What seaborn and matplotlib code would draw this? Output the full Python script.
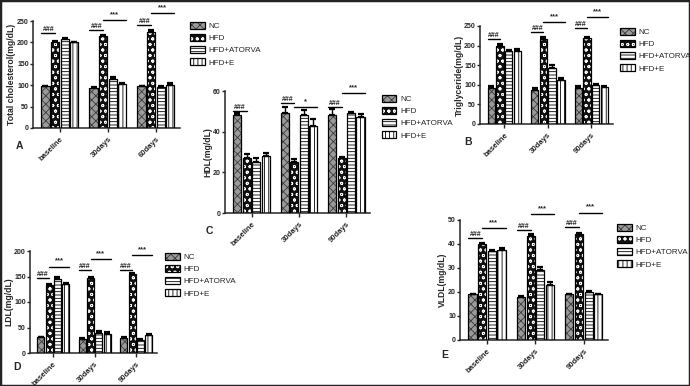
import pandas as pd
import seaborn as sns
import matplotlib.pyplot as plt
from matplotlib.patches import Patch, Rectangle
from matplotlib.legend_handler import HandlerTuple

# groups and time points
groups = ["NC", "HFD", "HFD+ATORVA", "HFD+E"]

# A: total cholesterol
tc_times = ["baseline", "30days", "60days"]
tc_vals = [[97, 200, 208, 200], [93, 215, 115, 103], [97, 225, 95, 101]]
tc_err = [[2, 3, 3, 2], [2, 3, 3, 2], [2, 3, 3, 3]]
tc_hash = [222, 229, 241]
tc_star = [None, 252, 269]

# B: triglyceride
tg_times = ["baseline", "30days", "90days"]
tg_vals = [[93, 199, 185, 187], [88, 217, 143, 113], [93, 220, 100, 95]]
tg_err = [[3, 4, 4, 5], [3, 4, 8, 5], [4, 3, 3, 3]]
tg_hash = [217, 235, 245]
tg_star = [None, 260, 273]

# C: HDL
hdl_times = ["baseline", "30days", "90days"]
hdl_vals = [[48, 27, 25, 28], [49, 25, 48, 43], [48, 27, 49, 47]]
hdl_err = [[1, 2, 2, 1.5], [3, 1.5, 2.5, 3], [3, 0.5, 0.5, 1.5]]
hdl_hash = [50, 54, 52]
hdl_star = [None, 52, 59]
hdl_star_txt = [None, "*", "***"]

# D: LDL
ldl_times = ["baseline", "30days", "90days"]
ldl_vals = [[31, 133, 146, 135], [27, 148, 40, 38], [30, 154, 25, 35]]
ldl_err = [[1, 3, 3, 3], [3, 2, 4, 3], [1, 2, 2, 3]]
ldl_hash = [147, 163, 163]
ldl_star = [169, 184, 192]

# E: VLDL
vldl_times = ["baseline", "30days", "90days"]
vldl_vals = [[19, 40, 37, 37.5], [18, 43.5, 29, 23], [19, 44, 20, 19]]
vldl_err = [[0.3, 0.5, 0.5, 1], [0.4, 0.6, 1.5, 1.2], [0.3, 0.4, 0.5, 0.3]]
vldl_hash = [42.4, 45.8, 47]
vldl_star = [46.6, 52.5, 53]

# bar looks: (face, hatch, hatch colour)
styles = [("#9a9a9a", "xxxx", "#3a3a3a"),
          ("#111111", "ooo", "white"),
          ("white", "-----", "black"),
          ("white", "||||", "black")]

sns.set_style("ticks")
plt.rcParams["font.family"] = ["Liberation Sans", "DejaVu Sans"]
plt.rcParams["font.weight"] = "bold"
plt.rcParams["hatch.linewidth"] = 0.6


def to_df(times, vals):
    rows = []
    for t, v in zip(times, vals):
        for g, x in zip(groups, v):
            rows.append({"time": t, "group": g, "value": x})
    return pd.DataFrame(rows)


def panel(fig, px, times, vals, errs, hashes, stars, ylim, yticks, ylabel,
          star_txt=None):
    W, H = 690, 386
    l, t, r, b = px
    ax = fig.add_axes([l / W, (H - b) / H, (r - l) / W, (b - t) / H])
    df = to_df(times, vals)
    sns.barplot(data=df, x="time", y="value", hue="group", errorbar=None,
                gap=0.15, legend=False, ax=ax)
    bars = list(ax.containers)
    for i, cont in enumerate(bars):
        face, hatch, hc = styles[i]
        xs, ys = [], []
        for bar in cont:
            bar.set_facecolor(face)
            bar.set_edgecolor(hc)
            bar.set_hatch(hatch)
            bar.set_linewidth(0)
            ax.add_patch(Rectangle((bar.get_x(), 0), bar.get_width(), bar.get_height(),
                                   fill=False, edgecolor="black", lw=0.9, zorder=3))
            xs.append(bar.get_x() + bar.get_width() / 2)
            ys.append(bar.get_height())
        e = [row[i] for row in errs]
        ax.errorbar(xs, ys, yerr=[[0] * len(e), e], fmt="none", ecolor="black",
                    elinewidth=1, capsize=2.2, capthick=1.6, zorder=4)
    for j in range(len(times)):
        nc = bars[0][j]
        hfd = bars[1][j]
        hfe = bars[3][j]
        x0 = nc.get_x()
        x1 = hfd.get_x() + hfd.get_width() / 2
        x2 = hfe.get_x() + hfe.get_width()
        if hashes[j] is not None:
            ax.plot([x0, x1], [hashes[j]] * 2, color="black", lw=1, clip_on=False)
            ax.text((x0 + x1) / 2, hashes[j], "###", ha="center", va="bottom",
                    fontsize=5, clip_on=False)
        if stars[j] is not None:
            s = star_txt[j] if star_txt else "***"
            ax.plot([x1, x2], [stars[j]] * 2, color="black", lw=1, clip_on=False)
            ax.annotate(s, ((x1 + x2) / 2, stars[j]), xytext=(0, 1.5),
                        textcoords="offset points", ha="center", va="bottom",
                        fontsize=5.5, annotation_clip=False)
    ax.set_xlim(-0.56, len(times) - 0.5)
    ax.set_ylim(*ylim)
    ax.set_yticks(yticks)
    ax.set_xlabel("")
    ax.set_ylabel(ylabel, fontsize=6.2, fontweight="bold", labelpad=0.5)
    ax.tick_params(axis="y", labelsize=5, length=2.5, width=1, pad=0.5)
    ax.tick_params(axis="x", labelsize=5.6, length=3, width=1, pad=2.5)
    plt.setp(ax.get_xticklabels(), rotation=45, ha="right", rotation_mode="anchor")
    sns.despine(ax=ax)
    for s in ["left", "bottom"]:
        ax.spines[s].set_linewidth(1.1)
    return ax


def legend_at(fig, x, y):
    W, H = 690, 386
    handles = []
    for face, hatch, hc in styles:
        handles.append((Patch(facecolor=face, edgecolor=hc, hatch=hatch, lw=0),
                        Patch(fill=False, edgecolor="black", lw=0.9)))
    fig.legend(handles, groups, loc="upper left", bbox_to_anchor=(x / W, 1 - y / H),
               frameon=False, prop={"weight": "normal", "size": 5.8},
               handler_map={tuple: HandlerTuple(ndivide=1, pad=0)},
               handlelength=1.8, handleheight=0.9, handletextpad=0.5,
               labelspacing=0.5, borderpad=0, borderaxespad=0)


fig = plt.figure(figsize=(6.9, 3.86), dpi=100)

panel(fig, (33, 21, 180, 128), tc_times, tc_vals, tc_err, tc_hash, tc_star,
      (0, 250), [0, 50, 100, 150, 200, 250], "Total cholesterol(mg/dL)")
legend_at(fig, 190, 22)

panel(fig, (480, 26, 613, 124), tg_times, tg_vals, tg_err, tg_hash, tg_star,
      (0, 250), [0, 50, 100, 150, 200, 250], "Triglyceride(mg/dL)")
legend_at(fig, 620, 28)

panel(fig, (225, 91, 370, 213), hdl_times, hdl_vals, hdl_err, hdl_hash, hdl_star,
      (0, 60), [0, 20, 40, 60], "HDL(mg/dL)", star_txt=hdl_star_txt)
legend_at(fig, 382, 95)

panel(fig, (30, 251, 157, 353), ldl_times, ldl_vals, ldl_err, ldl_hash, ldl_star,
      (0, 200), [0, 50, 100, 150, 200], "LDL(mg/dL)")
legend_at(fig, 165, 253)

panel(fig, (460, 220, 608, 340), vldl_times, vldl_vals, vldl_err, vldl_hash, vldl_star,
      (0, 50), [0, 10, 20, 30, 40, 50], "VLDL(mg/dL)")
legend_at(fig, 617, 224)

# panel letters
for lab, x, y in [("A", 19, 146), ("B", 468, 142), ("C", 209, 231),
                  ("D", 17, 367), ("E", 445, 355)]:
    fig.text(x / 690, 1 - y / 386, lab, fontsize=7.5, fontweight="bold",
             ha="center", va="center")

fig.patches.append(Rectangle((0, 0), 1, 1, transform=fig.transFigure, fill=False,
                             edgecolor="#222222", lw=2.5))

fig.savefig("out.png", dpi=100)
